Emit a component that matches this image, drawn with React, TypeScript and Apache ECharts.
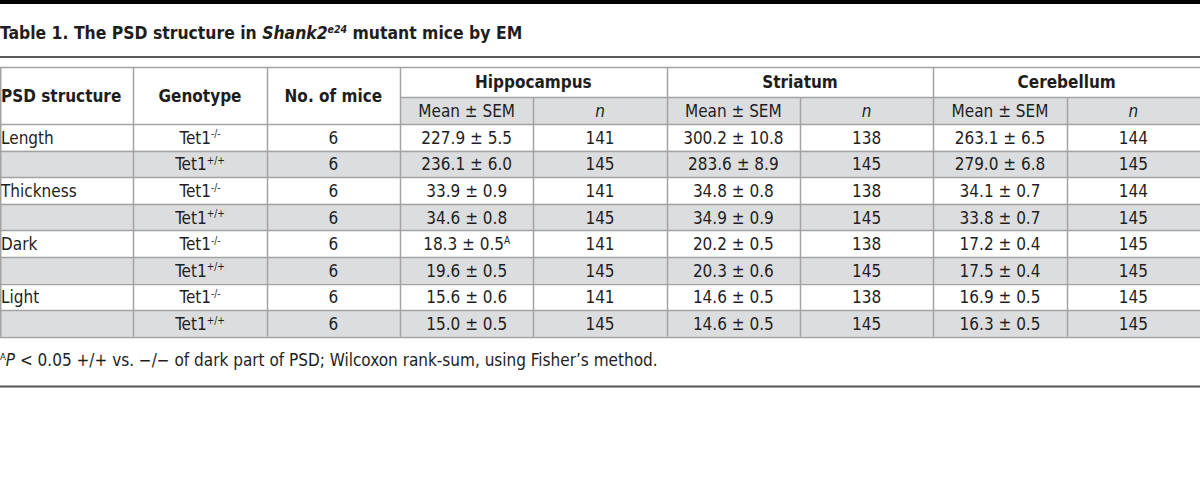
import React, { useEffect, useRef } from "react";
import * as echarts from "echarts";

const tableTitle = "Table 1. The PSD structure in ";
const titleGene = "Shank2";
const titleAllele = "e24";
const titleRest = " mutant mice by EM";
const headerCols = ["PSD structure", "Genotype", "No. of mice"];
const regions = ["Hippocampus", "Striatum", "Cerebellum"];
const subHeaders = ["Mean ± SEM", "n"];
const structures = ["Length", "Thickness", "Dark", "Light"];
const genotypeSup = ["-/-", "+/+"];
const miceCounts = [6, 6, 6, 6, 6, 6, 6, 6];
const hippoMean = [227.9, 236.1, 33.9, 34.6, 18.3, 19.6, 15.6, 15.0];
const hippoSem = [5.5, 6.0, 0.9, 0.8, 0.5, 0.5, 0.6, 0.5];
const hippoN = [141, 145, 141, 145, 141, 145, 141, 145];
const hippoMark = ["", "", "", "", "A", "", "", ""];
const striatumMean = [300.2, 283.6, 34.8, 34.9, 20.2, 20.3, 14.6, 14.6];
const striatumSem = [10.8, 8.9, 0.8, 0.9, 0.5, 0.6, 0.5, 0.5];
const striatumN = [138, 145, 138, 145, 138, 145, 138, 145];
const cerebMean = [263.1, 279.0, 34.1, 33.8, 17.2, 17.5, 16.9, 16.3];
const cerebSem = [6.5, 6.8, 0.7, 0.7, 0.4, 0.4, 0.5, 0.5];
const cerebN = [144, 145, 144, 145, 145, 145, 145, 145];
const footMark = "A";
const footP = "P";
const footText = " < 0.05 +/+ vs. \u2212/\u2212 of dark part of PSD; Wilcoxon rank-sum, using Fisher\u2019s method.";

const FONT = "'Liberation Sans Narrow', 'DejaVu Sans Condensed', 'Roboto Condensed', sans-serif";
const INK = "#1e1e1e";
const GRID = "#a3a3a3";
const SHADE = "#dcdddf";

export default function App() {
  const ref = useRef<HTMLDivElement>(null);
  useEffect(() => {
    if (!ref.current) return;
    const chart = echarts.init(ref.current, null, { renderer: "svg" });
    const W = 1200;
    const colW = W / 9;
    const tableTop = 67;
    const h1Bottom = 97;
    const h2Bottom = 124;
    const rowH = 26.6;
    const nRows = 8;
    const tableBottom = h2Bottom + rowH * nRows;
    const els: any[] = [];

    const sup = { fontFamily: FONT, fontSize: 10, verticalAlign: "top", fill: INK, lineHeight: 18 };
    const txt = (x: number, y: number, text: string, o: any = {}) => {
      els.push({
        type: "text",
        x,
        y,
        silent: true,
        style: {
          text,
          fill: INK,
          fontFamily: FONT,
          fontSize: o.fontSize || 17,
          fontWeight: o.fontWeight || "normal",
          fontStyle: o.fontStyle || "normal",
          align: o.align || "center",
          verticalAlign: "middle",
          lineHeight: 18,
          rich: o.rich,
        },
      });
    };
    const line = (x1: number, y1: number, x2: number, y2: number, stroke: string, w: number) => {
      els.push({ type: "line", silent: true, shape: { x1, y1, x2, y2 }, style: { stroke, lineWidth: w } });
    };
    const rect = (x: number, y: number, w: number, h: number, fill: string) => {
      els.push({ type: "rect", silent: true, shape: { x, y, width: w, height: h }, style: { fill } });
    };

    // top black bar
    rect(0, 0, W, 4, "#000");

    // title
    const TS = 17.4;
    txt(0, 33, `${tableTitle}{i|${titleGene}}{isup|${titleAllele}}${titleRest}`, {
      align: "left",
      fontWeight: "bold",
      fontSize: TS,
      rich: {
        i: { fontFamily: FONT, fontSize: TS, fontWeight: "bold", fontStyle: "italic", fill: INK, lineHeight: 20 },
        isup: { fontFamily: FONT, fontSize: 10.5, fontWeight: "bold", fontStyle: "italic", fill: INK, verticalAlign: "top", lineHeight: 20 },
      },
    });
    line(0, 57, W, 57, "#222", 1.5);

    // backgrounds
    rect(colW * 3, h1Bottom, colW * 6, h2Bottom - h1Bottom, SHADE);
    for (let r = 0; r < nRows; r++) {
      if (r % 2 === 1) rect(0, h2Bottom + r * rowH, W, rowH, SHADE);
    }

    // horizontal grid
    line(0, tableTop + 0.5, W, tableTop + 0.5, GRID, 1.5);
    line(colW * 3, h1Bottom + 0.5, W, h1Bottom + 0.5, GRID, 1.5);
    for (let r = 0; r <= nRows; r++) {
      const y = Math.round(h2Bottom + r * rowH) + 0.5;
      line(0, y, W, y, GRID, 1.5);
    }
    // vertical grid
    line(0.75, tableTop, 0.75, tableBottom, GRID, 1.5);
    for (let c = 1; c < 9; c++) {
      const x = Math.round(colW * c) + 0.5;
      const yStart = c === 4 || c === 6 || c === 8 ? h1Bottom : tableTop;
      line(x, yStart, x, tableBottom, GRID, 1.5);
    }

    // headers
    const hMid = (tableTop + h2Bottom) / 2;
    txt(1, hMid, headerCols[0], { align: "left", fontWeight: "bold" });
    txt(colW * 1.5, hMid, headerCols[1], { fontWeight: "bold" });
    txt(colW * 2.5, hMid, headerCols[2], { fontWeight: "bold" });
    regions.forEach((name, i) => {
      const x0 = colW * (3 + i * 2);
      txt(x0 + colW, (tableTop + h1Bottom) / 2, name, { fontWeight: "bold" });
      txt(x0 + colW * 0.5, (h1Bottom + h2Bottom) / 2, subHeaders[0]);
      txt(x0 + colW * 1.5, (h1Bottom + h2Bottom) / 2, subHeaders[1], { fontStyle: "italic" });
    });

    // data rows
    const means = [hippoMean, striatumMean, cerebMean];
    const sems = [hippoSem, striatumSem, cerebSem];
    const ns = [hippoN, striatumN, cerebN];
    const marks = [hippoMark, ["", "", "", "", "", "", "", ""], ["", "", "", "", "", "", "", ""]];
    for (let r = 0; r < nRows; r++) {
      const y = h2Bottom + r * rowH + rowH / 2 + 0.5;
      if (r % 2 === 0) txt(1, y, structures[r / 2], { align: "left" });
      txt(colW * 1.5, y, `Tet1{sup|${genotypeSup[r % 2]}}`, { rich: { sup } });
      txt(colW * 2.5, y, String(miceCounts[r]));
      for (let g = 0; g < 3; g++) {
        const x0 = colW * (3 + g * 2);
        const m = marks[g][r];
        const s = `${means[g][r].toFixed(1)} ± ${sems[g][r].toFixed(1)}` + (m ? `{sup|${m}}` : "");
        txt(x0 + colW * 0.5, y, s, { rich: { sup } });
        txt(x0 + colW * 1.5, y, String(ns[g][r]));
      }
    }

    // footnote
    txt(0, 360, `{fs|${footMark}}{fi|${footP}}${footText}`, {
      align: "left",
      fontSize: 17,
      rich: {
        fs: { fontFamily: FONT, fontSize: 9.5, verticalAlign: "top", fill: INK, lineHeight: 18 },
        fi: { fontFamily: FONT, fontSize: 17, fontStyle: "italic", fill: INK, lineHeight: 18 },
      },
    });
    line(0, 386.5, W, 386.5, "#555", 2);

    chart.setOption({ animation: false, graphic: { elements: els } });
    return () => chart.dispose();
  }, []);
  return (
    <div
      ref={ref}
      style={{ position: "fixed", left: 0, top: 0, width: 1200, height: 483, background: "#fff" }}
    />
  );
}
